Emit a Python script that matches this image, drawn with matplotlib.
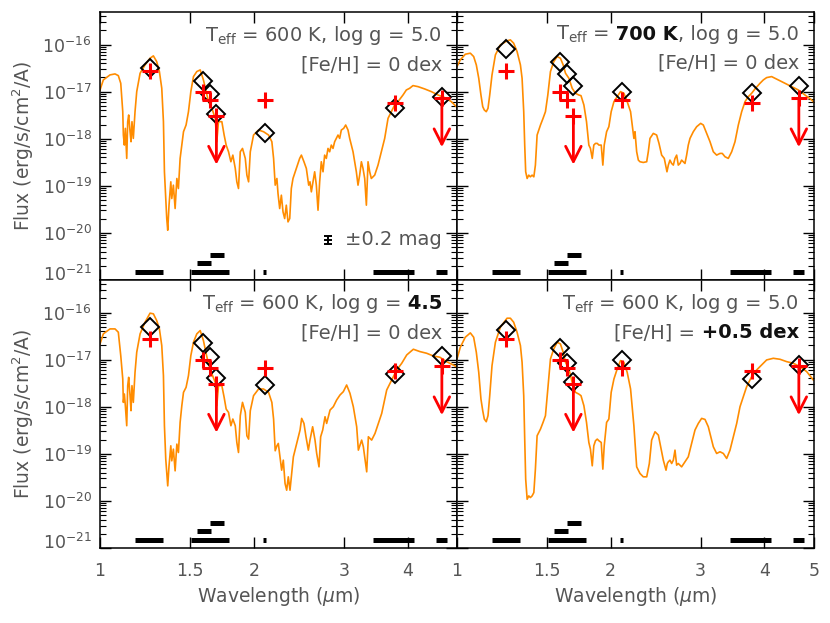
import numpy as np
import matplotlib
matplotlib.use("Agg")
import matplotlib.pyplot as plt
from matplotlib.ticker import FixedLocator, FixedFormatter, NullLocator, LogLocator
from matplotlib.offsetbox import TextArea, HPacker, VPacker, AnchoredOffsetbox
from matplotlib.transforms import ScaledTranslation

# ---- model spectra, wavelength in micron, log10 flux in erg/s/cm2/A
wl_a_blue = [1.000, 1.015, 1.046, 1.070, 1.086, 1.098, 1.108, 1.111, 1.116, 1.121, 1.128, 1.133, 1.138, 1.145,
             1.150, 1.155, 1.162, 1.171, 1.180, 1.198, 1.225, 1.253, 1.272, 1.291, 1.307, 1.321, 1.331, 1.337,
             1.345, 1.351, 1.357, 1.365, 1.376, 1.382, 1.392, 1.403, 1.414, 1.424, 1.435, 1.446, 1.457, 1.474,
             1.490, 1.506, 1.524, 1.547, 1.571, 1.594, 1.614, 1.631, 1.656, 1.681, 1.693, 1.706, 1.732, 1.750,
             1.766, 1.785, 1.804, 1.820, 1.840, 1.853, 1.867, 1.882, 1.901, 1.925, 1.939, 1.954, 1.969, 1.998,
             2.044, 2.090, 2.138, 2.170, 2.187, 2.203, 2.220]

wl_b_blue = [1.000, 1.015, 1.038, 1.062, 1.078, 1.091, 1.103, 1.114, 1.123, 1.131, 1.141, 1.150, 1.159, 1.171,
             1.189, 1.216, 1.253, 1.272, 1.291, 1.311, 1.331, 1.341, 1.351, 1.357, 1.363, 1.372, 1.382, 1.392,
             1.403, 1.414, 1.424, 1.435, 1.446, 1.457, 1.474, 1.490, 1.506, 1.524, 1.547, 1.571, 1.594, 1.614,
             1.631, 1.656, 1.681, 1.706, 1.731, 1.749, 1.772, 1.793, 1.812, 1.825, 1.840, 1.853, 1.867, 1.882,
             1.896, 1.916, 1.930, 1.942, 1.963, 1.983, 2.004, 2.029, 2.059, 2.090, 2.122, 2.154, 2.187, 2.220]

# Teff=600 K, log g=5.0, [Fe/H]=0
tl_wl = wl_a_blue + [
    2.231, 2.248, 2.265, 2.282, 2.299, 2.316, 2.334, 2.352, 2.369, 2.387, 2.423, 2.460, 2.479, 2.508,
    2.535, 2.562, 2.577, 2.593, 2.612, 2.632, 2.652, 2.672, 2.692, 2.712, 2.733, 2.753, 2.774, 2.795,
    2.816, 2.837, 2.859, 2.880, 2.902, 2.924, 2.946, 2.968, 3.000, 3.027, 3.059, 3.082, 3.105, 3.129,
    3.152, 3.176, 3.200, 3.224, 3.249, 3.273, 3.298, 3.323, 3.348, 3.373, 3.398, 3.450, 3.502, 3.555,
    3.609, 3.664, 3.719, 3.775, 3.832, 3.920, 3.979, 4.039, 4.100, 4.194, 4.322, 4.454, 4.590, 4.730,
    4.875, 5.023]
tl_logf = [
    -16.965, -16.752, -16.645, -16.624, -16.660, -16.823, -17.426, -17.922, -18.135, -17.780, -18.418,
    -17.638, -17.496, -17.851, -18.064, -17.638, -17.993, -17.426, -17.000, -16.610, -16.433, -16.291,
    -16.241, -16.362, -16.574, -16.929, -17.638, -18.702, -19.270, -19.695, -19.943, -19.411, -18.915,
    -19.270, -18.986, -19.482, -18.844, -19.057, -18.418, -18.135, -17.851, -17.709, -17.426, -17.000,
    -16.681, -16.574, -16.539, -16.752, -17.000, -17.213, -17.355, -17.567, -18.064, -17.638, -17.638,
    -17.922, -18.135, -18.277, -18.489, -18.348, -18.631, -18.915, -19.057, -18.277, -18.206, -18.418,
    -18.773, -18.915, -18.277, -17.922, -17.816, -17.851, -17.922, -18.064, -18.418, -18.986, -18.844,
    -19.163, -19.482, -19.199, -19.553, -19.695, -19.411, -19.766, -19.695, -19.057, -18.844, -18.631,
    -18.418, -18.348, -18.489, -18.631, -18.986, -18.915, -19.128, -18.915, -18.702, -18.986, -19.518,
    -18.915, -18.489, -18.702, -18.348, -18.418, -18.206, -18.277, -18.135, -18.206, -18.064, -17.993,
    -17.922, -17.993, -17.816, -17.780, -17.709, -17.816, -17.993, -18.135, -18.277, -18.489, -18.702,
    -18.986, -18.773, -18.489, -18.631, -18.844, -19.411, -18.489, -18.702, -18.844, -18.773, -18.560,
    -18.277, -17.993, -17.567, -17.426, -17.284, -17.213, -17.071, -16.965, -16.929, -16.872, -16.894,
    -16.943, -17.000, -17.071, -17.128, -17.213, -17.355]

# Teff=700 K, log g=5.0, [Fe/H]=0
tr_wl = wl_b_blue + [
    2.231, 2.248, 2.265, 2.282, 2.316, 2.352, 2.369, 2.387, 2.423, 2.460, 2.486, 2.516, 2.546, 2.562,
    2.577, 2.593, 2.612, 2.632, 2.652, 2.672, 2.692, 2.712, 2.733, 2.753, 2.795, 2.816, 2.837, 2.859,
    2.902, 2.946, 3.000, 3.036, 3.082, 3.129, 3.176, 3.224, 3.273, 3.307, 3.348, 3.398, 3.450, 3.502,
    3.555, 3.609, 3.664, 3.719, 3.775, 3.832, 3.920, 3.979, 4.039, 4.131, 4.257, 4.387, 4.521, 4.659,
    4.801, 4.947, 5.023]
tr_logf = [
    -16.468, -16.326, -16.206, -16.184, -16.255, -16.433, -16.716, -17.071, -17.319, -17.390, -17.426,
    -17.355, -17.071, -16.645, -16.220, -16.007, -15.922, -15.901, -15.972, -16.149, -16.433, -16.716,
    -17.426, -18.135, -18.702, -18.844, -18.773, -18.809, -18.773, -18.809, -18.560, -17.922, -17.816,
    -17.709, -17.567, -17.426, -17.071, -16.574, -16.362, -16.255, -16.291, -16.433, -16.610, -16.716,
    -16.929, -17.035, -17.071, -17.085, -17.284, -17.638, -18.135, -18.206, -18.418, -18.135, -18.099,
    -18.099, -18.135, -18.135, -18.560, -18.135, -17.851, -17.745, -17.426, -17.213, -17.106, -17.000,
    -17.035, -17.213, -17.426, -17.993,
    -17.851, -18.277, -18.454, -18.489, -18.504, -18.489, -18.277, -17.993, -17.887, -17.922, -18.099,
    -18.348, -18.418, -18.560, -18.702, -18.560, -18.454, -18.525, -18.560, -18.418, -18.348, -18.560,
    -18.525, -18.454, -18.525, -18.348, -18.135, -17.993, -17.851, -17.745, -17.674, -17.709, -17.887,
    -18.064, -18.277, -18.348, -18.312, -18.312, -18.383, -18.418, -18.277, -18.064, -17.709, -17.426,
    -17.213, -17.106, -17.035, -16.943, -16.823, -16.752, -16.702, -16.681, -16.752, -16.823, -16.894,
    -16.965, -17.071, -17.177, -17.248]

# Teff=600 K, log g=4.5, [Fe/H]=0
bl_wl = wl_a_blue + [
    2.234, 2.268, 2.285, 2.303, 2.320, 2.337, 2.355, 2.373, 2.391, 2.427, 2.464, 2.482, 2.508, 2.531,
    2.558, 2.577, 2.608, 2.636, 2.656, 2.684, 2.704, 2.729, 2.758, 2.778, 2.821, 2.863, 2.906, 2.950,
    2.995, 3.040, 3.086, 3.133, 3.181, 3.205, 3.253, 3.278, 3.328, 3.353, 3.403, 3.455, 3.507, 3.561,
    3.642, 3.725, 3.810, 3.897, 3.986, 4.107, 4.231, 4.360, 4.492, 4.629, 4.769, 4.988]
bl_logf = [
    -16.667, -16.454, -16.348, -16.348, -16.418, -16.915, -17.411, -17.908, -17.730, -17.979, -18.404,
    -17.553, -17.376, -17.766, -18.085, -17.553, -17.908, -17.270, -16.844, -16.454, -16.206, -16.014,
    -16.028, -16.170, -16.348, -16.702, -17.340, -18.404, -19.113, -19.397, -19.681, -19.255, -18.830,
    -19.149, -18.901, -19.362, -18.794, -18.972, -18.333, -17.979, -17.695, -17.589, -17.340, -16.915,
    -16.631, -16.454, -16.383, -16.596, -16.879, -17.092, -17.305, -17.482, -17.979, -17.553, -17.553,
    -17.801, -18.050, -18.121, -18.404, -18.262, -18.404, -18.759, -18.972, -18.191, -17.908, -18.121,
    -18.617, -18.688, -18.085, -17.766, -17.624, -17.624, -17.695, -17.908, -18.262, -18.936, -18.830,
    -18.780, -19.348, -19.135, -19.631, -19.773, -19.489, -19.773, -19.418, -19.064, -18.780, -18.496,
    -18.248, -18.355, -18.638, -18.922, -18.709, -18.426, -18.709, -18.993, -19.277, -18.638, -18.496,
    -18.213, -18.355, -18.071, -18.000, -17.858, -17.752, -17.681, -17.539, -17.716, -18.000, -18.426,
    -18.922, -18.709, -18.851, -19.383, -18.638, -18.709, -18.567, -18.355, -18.142, -17.645, -17.433,
    -17.220, -17.078, -16.901, -16.780, -16.830, -16.865, -16.922, -16.950, -17.043, -17.149]

# Teff=600 K, log g=5.0, [Fe/H]=+0.5
br_wl = wl_b_blue + [
    2.248, 2.282, 2.316, 2.352, 2.380, 2.405, 2.442, 2.479, 2.505, 2.535, 2.566, 2.581, 2.593, 2.612,
    2.632, 2.652, 2.672, 2.692, 2.712, 2.753, 2.795, 2.837, 2.880, 2.924, 2.968, 3.013, 3.059, 3.105,
    3.176, 3.224, 3.273, 3.323, 3.373, 3.424, 3.476, 3.529, 3.582, 3.636, 3.691, 3.775, 3.861, 3.949,
    4.039, 4.162, 4.290, 4.420, 4.555, 4.694, 4.838, 4.986]
br_logf = [
    -16.986, -16.738, -16.525, -16.433, -16.525, -16.844, -17.270, -17.837, -18.085, -18.262, -18.319,
    -18.191, -17.766, -17.128, -16.631, -16.312, -16.121, -16.121, -16.206, -16.418, -16.702, -17.057,
    -17.766, -18.688, -19.539, -19.965, -19.894, -19.929, -19.894, -19.823, -19.326, -18.617, -18.546,
    -18.475, -18.333, -18.191, -17.624, -16.986, -16.773, -16.631, -16.667, -16.844, -17.057, -17.199,
    -17.482, -17.695, -17.730, -17.766, -17.979, -18.333, -18.759, -18.901, -19.255, -18.830, -18.723,
    -18.688, -18.723, -18.759, -19.326, -18.830, -18.333, -18.262, -17.695, -17.411, -17.199, -17.021,
    -17.057, -17.270, -17.624, -18.404,
    -19.277, -19.418, -19.489, -19.489, -19.206, -18.709, -18.532, -18.603, -18.851, -19.135, -19.348,
    -19.206, -19.170, -19.135, -19.206, -19.135, -18.922, -19.241, -19.206, -19.277, -19.170, -19.064,
    -18.780, -18.496, -18.355, -18.248, -18.270, -18.426, -18.851, -18.993, -18.957, -18.993, -19.099,
    -18.922, -18.638, -18.355, -18.000, -17.787, -17.574, -17.362, -17.220, -17.113, -17.007, -16.972,
    -16.993, -17.043, -17.078, -17.149, -17.255, -17.433]

# ---- synthetic photometry of each model (diamonds), J CH4s H CH4l 2.1 L' M
phot_wl = [1.25, 1.59, 1.645, 1.69, 2.10, 3.78, 4.67]
tl_phot = [-16.49, -16.77, -17.06, -17.47, -17.88, -17.35, -17.12]
tr_phot = [-16.10, -16.38, -16.62, -16.89, -17.00, -17.02, -16.87]
bl_phot = [-16.31, -16.65, -16.95, -17.39, -17.53, -17.30, -16.92]
br_phot = [-16.38, -16.76, -17.08, -17.48, -17.01, -17.42, -17.11]

# ---- observed photometry (red) and upper limits
obs_wl = [1.25, 1.59, 1.645, 2.10, 3.78]
obs_logf = [-16.56, -17.01, -17.18, -17.17, -17.25]
lim_wl = [1.69, 4.67]
lim_logf = [-17.51, -17.14]

# ---- filter bandpasses drawn along the bottom
band_lo = [1.17, 1.505, 2.088, 3.43, 4.55]
band_hi = [1.33, 1.79, 2.111, 4.12, 4.79]
ch4s_band = (1.546, 1.649)
ch4l_band = (1.642, 1.749)
band_levels = [1.49e-21, 2.26e-21, 3.37e-21]

# error bar indicator, panel a
mag_wl, mag_flux, mag_err = 2.80, 7.1e-21, 0.2

panels = [
    (tl_wl, tl_logf, tl_phot,
     [("T$_{\\rm eff}$ = 600 K, log g = 5.0", False)], [("[Fe/H] = 0 dex", False)]),
    (tr_wl, tr_logf, tr_phot,
     [("T$_{\\rm eff}$ =", False), (" 700 K", True), (", log g = 5.0", False)], [("[Fe/H] = 0 dex", False)]),
    (bl_wl, bl_logf, bl_phot,
     [("T$_{\\rm eff}$ = 600 K, log g =", False), (" 4.5", True)], [("[Fe/H] = 0 dex", False)]),
    (br_wl, br_logf, br_phot,
     [("T$_{\\rm eff}$ = 600 K, log g = 5.0", False)], [("[Fe/H] =", False), (" +0.5 dex", True)]),
]
ydecades = [1e-21, 1e-20, 1e-19, 1e-18, 1e-17, 1e-16]

GRAY = "#555555"
ORANGE = "#ff8c00"
plt.rcParams["font.family"] = ["DejaVu Sans"]
plt.rcParams["mathtext.fontset"] = "dejavusans"
plt.rcParams["axes.linewidth"] = 1.1

fig, axes = plt.subplots(2, 2, figsize=(8.3, 6.23), dpi=100)
fig.subplots_adjust(left=0.1205, right=0.9807, bottom=0.1204, top=0.9807, wspace=0, hspace=0)


def label_box(ax, line1, line2):
    rows = []
    for parts in (line1, line2):
        kids = [TextArea(s, textprops=dict(color="#111111" if b else GRAY, fontsize=14,
                                           fontweight="bold" if b else "normal"))
                for s, b in parts]
        rows.append(HPacker(children=kids, align="baseline", pad=0, sep=0))
    box = VPacker(children=rows, align="right", pad=0, sep=6)
    anc = AnchoredOffsetbox(loc="upper right", child=box, pad=0, borderpad=0, frameon=False,
                            bbox_to_anchor=(0.958, 0.955), bbox_transform=ax.transAxes)
    ax.add_artist(anc)


for i, (ax, (wl, logf, phot, l1, l2)) in enumerate(zip(axes.flat, panels)):
    row, col = divmod(i, 2)
    ax.set_xscale("log")
    ax.set_yscale("log")

    ax.plot(wl, 10 ** np.array(logf), color=ORANGE, lw=1.2, zorder=2)
    ax.plot(phot_wl, 10 ** np.array(phot), ls="none", marker="D", ms=9.5, mfc="none",
            mec="k", mew=1.4, zorder=3)
    ax.plot(obs_wl, 10 ** np.array(obs_logf), ls="none", marker="+", ms=12, mew=2.2,
            color="red", zorder=4)
    ax.plot(lim_wl, 10 ** np.array(lim_logf), ls="none", marker="+", ms=12, mew=2.2,
            color="red", zorder=4)
    for w, lf in zip(lim_wl, lim_logf):
        ax.annotate("", xy=(w, 10 ** (lf - 1.04)), xytext=(w, 10 ** lf),
                    arrowprops=dict(arrowstyle="->,head_length=0.55,head_width=0.28", color="red",
                                    lw=2, mutation_scale=20, shrinkA=0, shrinkB=0), zorder=4)

    ax.hlines([band_levels[0]] * len(band_lo), band_lo, band_hi, color="k", lw=3.6, capstyle="butt")
    ax.hlines(band_levels[1], *ch4s_band, color="k", lw=3.6, capstyle="butt")
    ax.hlines(band_levels[2], *ch4l_band, color="k", lw=3.6, capstyle="butt")

    if i == 0:
        f = 10 ** (0.4 * mag_err)
        ax.errorbar([mag_wl], [mag_flux], yerr=[[mag_flux - mag_flux / f], [mag_flux * f - mag_flux]],
                    fmt="_", color="k", ms=6, mew=1.4, elinewidth=1.4, capsize=3, capthick=1.4)
        ax.text(3.02, mag_flux, "\u00b10.2 mag", color=GRAY, fontsize=14, va="center", ha="left")

    label_box(ax, l1, l2)

    ax.set_xlim(1, 5)
    ax.set_ylim(1e-21, 4.9e-16)
    ax.xaxis.set_major_locator(FixedLocator([1, 1.5, 2, 3, 4, 5]))
    xlabels = ["1", "1.5", "2", "3", "4", "5"] if col == 1 else ["1", "1.5", "2", "3", "4", ""]
    ax.xaxis.set_major_formatter(FixedFormatter(xlabels))
    ax.xaxis.set_minor_locator(NullLocator())
    ax.yaxis.set_major_locator(FixedLocator(ydecades))
    ax.yaxis.set_minor_locator(LogLocator(base=10, subs=np.arange(2, 10), numticks=20))

    ax.tick_params(which="both", direction="in", top=True, right=True, colors="k",
                   labelcolor=GRAY, labelsize=12.5)
    ax.tick_params(which="major", length=8, width=1)
    ax.tick_params(which="minor", length=4, width=0.8)
    ax.tick_params(axis="x", pad=10)
    ax.tick_params(axis="y", pad=6)
    if row == 0:
        ax.tick_params(labelbottom=False)
    else:
        ax.set_xlabel("Wavelength ($\\mu$m)", color=GRAY, fontsize=13.5, labelpad=4)
    if col == 1:
        ax.tick_params(labelleft=False)
    else:
        ax.set_ylabel("Flux (erg/s/cm$^2$/A)", color=GRAY, fontsize=13.5, labelpad=5)
        # the lowest decade label sits a little above its tick, as in the original
        lowest = ax.yaxis.get_major_ticks()[0]
        lowest.label1.set_transform(lowest.label1.get_transform()
                                    + ScaledTranslation(0, 0.07, fig.dpi_scale_trans))

fig.savefig("out.png", dpi=100)
